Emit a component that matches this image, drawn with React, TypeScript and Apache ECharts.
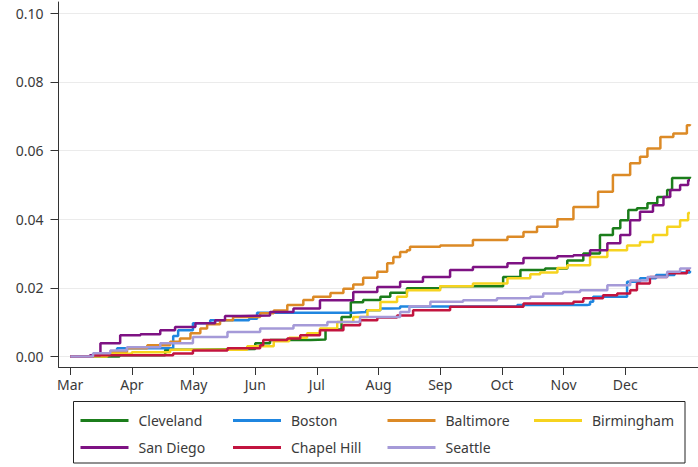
import React, { useEffect, useRef } from "react";
import * as echarts from "echarts";

const monthLabels = ["Mar", "Apr", "May", "Jun", "Jul", "Aug", "Sep", "Oct", "Nov", "Dec"];
const monthTicks = [0, 1, 2, 3, 4, 5, 6, 7, 8, 9];
const yTicks = [0, 0.02, 0.04, 0.06, 0.08, 0.1];

// x = months since Mar 1, y = cumulative incidence
const cleveland: [number, number][] = [
  [0, 0], [0.8, 0.0004], [1.54, 0.002], [2.0, 0.0022], [3.0, 0.0039], [3.24, 0.0048], [3.9, 0.005],
  [4.14, 0.0079], [4.4, 0.0115], [4.55, 0.0158], [4.75, 0.0165], [5.03, 0.0174], [5.19, 0.0186],
  [5.46, 0.0199], [6.0, 0.0205], [7.02, 0.0232], [7.3, 0.0252], [7.7, 0.0257], [8.06, 0.028],
  [8.32, 0.03], [8.59, 0.0354], [8.8, 0.0374], [8.92, 0.0397], [9.05, 0.0427], [9.19, 0.0432],
  [9.36, 0.0447], [9.52, 0.0465], [9.68, 0.0485], [9.76, 0.052], [10.05, 0.0524],
];
const boston: [number, number][] = [
  [0, 0], [0.5, 0.001], [0.76, 0.0024], [1.67, 0.006], [1.75, 0.0077], [1.99, 0.0097], [2.27, 0.0106],
  [2.9, 0.011], [3.03, 0.0128], [4.6, 0.013], [4.8, 0.0135], [5.03, 0.014], [5.19, 0.0141],
  [5.35, 0.0146], [7.25, 0.015], [8.38, 0.0152], [8.43, 0.016], [8.48, 0.0174], [9.03, 0.0218],
  [9.24, 0.0228], [9.5, 0.0238], [9.8, 0.0245], [10.05, 0.025],
];
const baltimore: [number, number][] = [
  [0, 0], [0.37, 0.0004], [0.65, 0.0013], [0.92, 0.0024], [1.25, 0.0033], [1.62, 0.0043],
  [1.78, 0.0053], [1.95, 0.0068], [2.11, 0.0082], [2.22, 0.0094], [2.43, 0.0106], [2.64, 0.0115],
  [3.08, 0.0126], [3.3, 0.0134], [3.52, 0.015], [3.78, 0.0165], [3.94, 0.0174], [4.22, 0.0185],
  [4.43, 0.0198], [4.59, 0.021], [4.75, 0.023], [4.98, 0.0247], [5.14, 0.0272], [5.24, 0.029],
  [5.35, 0.0305], [5.46, 0.031], [5.51, 0.032], [6.0, 0.0324], [6.53, 0.034], [7.09, 0.0349],
  [7.35, 0.0363], [7.57, 0.0378], [7.9, 0.04], [8.16, 0.0436], [8.56, 0.048], [8.8, 0.0529],
  [9.08, 0.0563], [9.24, 0.0582], [9.36, 0.0606], [9.57, 0.064], [9.78, 0.065], [10.0, 0.0674],
  [10.05, 0.0677],
];
const birmingham: [number, number][] = [
  [0, 0], [0.6, 0.0008], [1.0, 0.0013], [1.62, 0.002], [2.87, 0.003], [3.3, 0.0045], [3.55, 0.0055],
  [3.84, 0.0068], [4.05, 0.0082], [4.33, 0.0101], [4.59, 0.0115], [4.82, 0.0135], [5.03, 0.0159],
  [5.3, 0.0174], [5.46, 0.0193], [6.0, 0.0205], [6.53, 0.0213], [7.09, 0.0228], [7.46, 0.024],
  [7.62, 0.0245], [7.9, 0.0258], [8.06, 0.0266], [8.43, 0.029], [8.71, 0.031], [9.03, 0.0324],
  [9.24, 0.0334], [9.45, 0.0354], [9.68, 0.0378], [9.89, 0.0397], [10.02, 0.0418], [10.05, 0.0418],
];
const sanDiego: [number, number][] = [
  [0, 0], [0.32, 0.0004], [0.49, 0.0039], [0.81, 0.0062], [1.14, 0.0065], [1.46, 0.0077],
  [1.7, 0.0086], [2.03, 0.0097], [2.35, 0.0106], [2.51, 0.0118], [2.76, 0.012], [3.24, 0.013],
  [3.62, 0.014], [4.05, 0.0164], [4.59, 0.0188], [4.98, 0.0203], [5.35, 0.0218], [5.72, 0.0232],
  [6.16, 0.0252], [6.53, 0.0261], [7.09, 0.0272], [7.35, 0.0287], [7.9, 0.0292], [8.16, 0.0295],
  [8.43, 0.031], [8.71, 0.033], [8.92, 0.0354], [9.08, 0.0397], [9.24, 0.0422], [9.45, 0.0441],
  [9.62, 0.0465], [9.73, 0.0485], [9.89, 0.05], [10.02, 0.0514], [10.05, 0.0514],
];
const chapelHill: [number, number][] = [
  [0, 0], [0.37, 0.0004], [1.67, 0.0009], [1.99, 0.0018], [2.55, 0.0024], [3.08, 0.0033],
  [3.13, 0.0048], [3.52, 0.0053], [3.73, 0.0062], [4.05, 0.0077], [4.43, 0.0091], [4.7, 0.0106],
  [4.98, 0.0114], [5.3, 0.012], [5.56, 0.0135], [6.16, 0.0145], [7.35, 0.0155], [8.16, 0.016],
  [8.32, 0.017], [8.64, 0.0179], [8.87, 0.0184], [9.08, 0.0193], [9.19, 0.0213], [9.4, 0.0232],
  [9.68, 0.0243], [10.0, 0.0252], [10.05, 0.0252],
];
const seattle: [number, number][] = [
  [0, 0], [0.37, 0.001], [0.65, 0.0018], [0.92, 0.0027], [1.46, 0.0039], [1.99, 0.0057],
  [2.55, 0.0072], [3.08, 0.0082], [3.62, 0.0091], [4.17, 0.0101], [4.7, 0.0115], [5.35, 0.013],
  [5.5, 0.0147], [5.84, 0.016], [6.37, 0.0164], [6.92, 0.017], [7.46, 0.0174], [7.67, 0.0184],
  [7.99, 0.0188], [8.27, 0.0193], [8.71, 0.0208], [9.08, 0.0222], [9.36, 0.0232], [9.68, 0.0247],
  [9.89, 0.0257], [10.05, 0.026],
];

const seriesNames = ["Cleveland", "Boston", "Baltimore", "Birmingham", "San Diego", "Chapel Hill", "Seattle"];
const seriesData = [cleveland, boston, baltimore, birmingham, sanDiego, chapelHill, seattle];
const seriesColors = ["#1b7d1b", "#1f86e0", "#dc8a26", "#f6d31f", "#7e1283", "#c2143f", "#a59ad8"];

const FONT = "'Noto Sans', 'DejaVu Sans', sans-serif";

export default function App() {
  const ref = useRef<HTMLDivElement>(null);
  useEffect(() => {
    if (!ref.current) return;
    const chart = echarts.init(ref.current, null, { renderer: "svg" });
    const legendBase = {
      orient: "vertical" as const,
      padding: 0,
      itemWidth: 48,
      itemHeight: 3,
      itemGap: 13,
      icon: "rect",
      textStyle: { fontFamily: FONT, fontSize: 14, color: "#3a3a3a", padding: [0, 0, 0, 5] },
      selectedMode: false,
    };
    chart.setOption({
      animation: false,
      backgroundColor: "#ffffff",
      textStyle: { fontFamily: FONT },
      grid: { left: 58.5, right: 0, top: 2, bottom: 100, containLabel: false },
      xAxis: {
        type: "value",
        min: -0.19,
        max: 10.18,
        axisLine: { show: true, onZero: false, lineStyle: { color: "#333", width: 1 } },
        axisTick: { show: true, length: 8, customValues: monthTicks, lineStyle: { color: "#333" } },
        axisLabel: {
          customValues: monthTicks,
          margin: 10,
          fontSize: 14,
          color: "#3a3a3a",
          fontFamily: FONT,
          formatter: (v: number) => monthLabels[Math.round(v)] ?? "",
        },
        splitLine: { show: false },
      },
      yAxis: {
        type: "value",
        min: -0.00303,
        max: 0.1033,
        axisLine: { show: true, onZero: false, lineStyle: { color: "#333", width: 1 } },
        axisTick: { show: true, length: 8, customValues: yTicks, lineStyle: { color: "#333" } },
        axisLabel: {
          customValues: yTicks,
          margin: 15,
          fontSize: 14,
          color: "#3a3a3a",
          fontFamily: FONT,
          formatter: (v: number) => v.toFixed(2),
        },
        splitLine: { show: true, lineStyle: { color: "#ebebeb", width: 1 } },
      },
      legend: [
        { ...legendBase, data: ["Cleveland", "San Diego"], left: 80.5, top: 413.5 },
        { ...legendBase, data: ["Boston", "Chapel Hill"], left: 233, top: 413.5 },
        { ...legendBase, data: ["Baltimore", "Seattle"], left: 387.5, top: 413.5 },
        { ...legendBase, data: ["Birmingham"], left: 534, top: 413.5 },
      ],
      graphic: [
        {
          type: "rect",
          shape: { x: 73.5, y: 401.5, width: 611.5, height: 61.5 },
          style: { fill: "none", stroke: "#222", lineWidth: 1 },
          silent: true,
        },
      ],
      series: seriesNames.map((name, i) => ({
        name,
        type: "line",
        step: "end",
        symbol: "none",
        showSymbol: false,
        data: seriesData[i],
        color: seriesColors[i],
        lineStyle: { color: seriesColors[i], width: 2.5 },
        itemStyle: { color: seriesColors[i] },
      })),
    });
    return () => chart.dispose();
  }, []);
  return (
    <div
      ref={ref}
      style={{ position: "fixed", left: 0, top: 0, width: 698, height: 467, background: "#fff" }}
    />
  );
}
